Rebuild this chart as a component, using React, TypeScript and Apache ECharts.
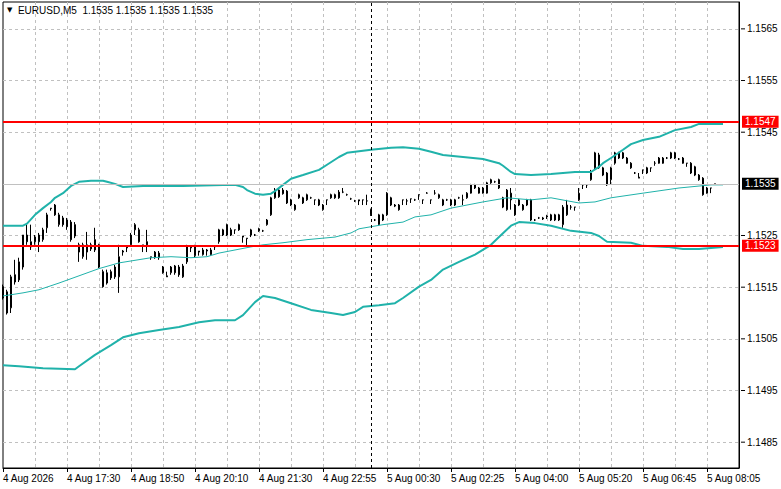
import React, { useEffect, useRef } from 'react';
import * as echarts from 'echarts';

const symbol = 'EURUSD';
const timeframe = 'M5';

// x-axis tick labels, one every 16 bars
const timeLabels = [
  '4 Aug 2026', '4 Aug 17:30', '4 Aug 18:50', '4 Aug 20:10', '4 Aug 21:30', '4 Aug 22:55',
  '5 Aug 00:30', '5 Aug 02:25', '5 Aug 04:00', '5 Aug 05:20', '5 Aug 06:45', '5 Aug 08:05',
];
const labelStep = 16;
const gridStep = 8;
const slotCount = 185; // bar slots incl. right-hand shift space

// [open, close, low, high]
const candles: number[][] = [
  [1.15151, 1.15129, 1.15126, 1.15155],
  [1.15141, 1.15100, 1.15097, 1.15145],
  [1.15110, 1.15170, 1.15100, 1.15174],
  [1.15174, 1.15160, 1.15155, 1.15203],
  [1.15164, 1.15199, 1.15160, 1.15207],
  [1.15189, 1.15251, 1.15184, 1.15251],
  [1.15251, 1.15238, 1.15232, 1.15271],
  [1.15228, 1.15238, 1.15222, 1.15271],
  [1.15247, 1.15238, 1.15232, 1.15251],
  [1.15251, 1.15238, 1.15218, 1.15255],
  [1.15242, 1.15261, 1.15238, 1.15265],
  [1.15265, 1.15290, 1.15255, 1.15294],
  [1.15302, 1.15303, 1.15298, 1.15303],
  [1.15309, 1.15290, 1.15288, 1.15311],
  [1.15271, 1.15290, 1.15267, 1.15294],
  [1.15284, 1.15271, 1.15267, 1.15288],
  [1.15280, 1.15267, 1.15261, 1.15284],
  [1.15276, 1.15242, 1.15238, 1.15280],
  [1.15271, 1.15249, 1.15245, 1.15276],
  [1.15232, 1.15218, 1.15199, 1.15236],
  [1.15209, 1.15232, 1.15205, 1.15236],
  [1.15218, 1.15232, 1.15203, 1.15257],
  [1.15232, 1.15224, 1.15220, 1.15236],
  [1.15242, 1.15222, 1.15218, 1.15265],
  [1.15232, 1.15189, 1.15187, 1.15234],
  [1.15180, 1.15151, 1.15149, 1.15184],
  [1.15158, 1.15178, 1.15155, 1.15184],
  [1.15180, 1.15168, 1.15164, 1.15184],
  [1.15189, 1.15170, 1.15166, 1.15193],
  [1.15170, 1.15209, 1.15139, 1.15232],
  [1.15218, 1.15220, 1.15211, 1.15222],
  [1.15226, 1.15228, 1.15218, 1.15230],
  [1.15232, 1.15251, 1.15228, 1.15255],
  [1.15261, 1.15271, 1.15251, 1.15274],
  [1.15261, 1.15238, 1.15236, 1.15265],
  [1.15230, 1.15232, 1.15218, 1.15232],
  [1.15238, 1.15232, 1.15218, 1.15261],
  [1.15207, 1.15209, 1.15203, 1.15209],
  [1.15218, 1.15207, 1.15205, 1.15220],
  [1.15216, 1.15207, 1.15203, 1.15220],
  [1.15189, 1.15178, 1.15176, 1.15191],
  [1.15170, 1.15172, 1.15170, 1.15180],
  [1.15178, 1.15189, 1.15174, 1.15191],
  [1.15191, 1.15178, 1.15174, 1.15193],
  [1.15189, 1.15174, 1.15170, 1.15193],
  [1.15170, 1.15191, 1.15168, 1.15195],
  [1.15199, 1.15228, 1.15195, 1.15232],
  [1.15226, 1.15228, 1.15218, 1.15230],
  [1.15211, 1.15228, 1.15207, 1.15232],
  [1.15218, 1.15220, 1.15211, 1.15220],
  [1.15213, 1.15222, 1.15211, 1.15226],
  [1.15220, 1.15222, 1.15211, 1.15224],
  [1.15213, 1.15222, 1.15211, 1.15226],
  [1.15228, 1.15230, 1.15222, 1.15230],
  [1.15238, 1.15261, 1.15234, 1.15263],
  [1.15251, 1.15261, 1.15249, 1.15263],
  [1.15251, 1.15271, 1.15249, 1.15273],
  [1.15261, 1.15251, 1.15249, 1.15265],
  [1.15261, 1.15261, 1.15253, 1.15261],
  [1.15271, 1.15261, 1.15259, 1.15273],
  [1.15247, 1.15249, 1.15236, 1.15249],
  [1.15244, 1.15245, 1.15228, 1.15245],
  [1.15251, 1.15261, 1.15247, 1.15263],
  [1.15251, 1.15251, 1.15249, 1.15253],
  [1.15263, 1.15259, 1.15257, 1.15265],
  [1.15259, 1.15259, 1.15257, 1.15261],
  [1.15271, 1.15280, 1.15269, 1.15282],
  [1.15290, 1.15323, 1.15288, 1.15325],
  [1.15323, 1.15338, 1.15321, 1.15342],
  [1.15338, 1.15325, 1.15323, 1.15342],
  [1.15338, 1.15331, 1.15329, 1.15342],
  [1.15336, 1.15313, 1.15311, 1.15338],
  [1.15319, 1.15309, 1.15307, 1.15321],
  [1.15300, 1.15309, 1.15298, 1.15311],
  [1.15323, 1.15329, 1.15321, 1.15331],
  [1.15323, 1.15313, 1.15311, 1.15325],
  [1.15319, 1.15329, 1.15317, 1.15331],
  [1.15323, 1.15323, 1.15321, 1.15325],
  [1.15319, 1.15319, 1.15309, 1.15319],
  [1.15309, 1.15319, 1.15307, 1.15321],
  [1.15300, 1.15309, 1.15298, 1.15311],
  [1.15319, 1.15319, 1.15309, 1.15319],
  [1.15329, 1.15323, 1.15321, 1.15331],
  [1.15329, 1.15323, 1.15321, 1.15331],
  [1.15334, 1.15323, 1.15321, 1.15338],
  [1.15334, 1.15334, 1.15332, 1.15342],
  [1.15329, 1.15329, 1.15327, 1.15331],
  [1.15321, 1.15321, 1.15319, 1.15323],
  [1.15317, 1.15317, 1.15315, 1.15319],
  [1.15319, 1.15317, 1.15309, 1.15319],
  [1.15319, 1.15319, 1.15309, 1.15319],
  [1.15317, 1.15317, 1.15309, 1.15329],
  [1.15300, 1.15290, 1.15288, 1.15302],
  [1.15280, 1.15280, 1.15278, 1.15282],
  [1.15271, 1.15290, 1.15269, 1.15292],
  [1.15280, 1.15290, 1.15278, 1.15292],
  [1.15290, 1.15332, 1.15288, 1.15334],
  [1.15323, 1.15309, 1.15307, 1.15325],
  [1.15309, 1.15307, 1.15305, 1.15311],
  [1.15309, 1.15300, 1.15298, 1.15311],
  [1.15319, 1.15319, 1.15309, 1.15319],
  [1.15317, 1.15317, 1.15309, 1.15321],
  [1.15321, 1.15321, 1.15313, 1.15321],
  [1.15319, 1.15319, 1.15317, 1.15321],
  [1.15329, 1.15329, 1.15319, 1.15329],
  [1.15319, 1.15319, 1.15311, 1.15319],
  [1.15332, 1.15332, 1.15331, 1.15334],
  [1.15319, 1.15319, 1.15311, 1.15319],
  [1.15332, 1.15332, 1.15329, 1.15338],
  [1.15323, 1.15329, 1.15321, 1.15331],
  [1.15319, 1.15309, 1.15307, 1.15321],
  [1.15319, 1.15319, 1.15317, 1.15321],
  [1.15319, 1.15309, 1.15307, 1.15321],
  [1.15319, 1.15309, 1.15307, 1.15321],
  [1.15323, 1.15323, 1.15321, 1.15325],
  [1.15319, 1.15319, 1.15309, 1.15329],
  [1.15323, 1.15332, 1.15321, 1.15334],
  [1.15332, 1.15348, 1.15331, 1.15350],
  [1.15348, 1.15342, 1.15340, 1.15350],
  [1.15332, 1.15342, 1.15331, 1.15344],
  [1.15332, 1.15342, 1.15331, 1.15344],
  [1.15332, 1.15352, 1.15331, 1.15354],
  [1.15358, 1.15352, 1.15350, 1.15360],
  [1.15354, 1.15354, 1.15352, 1.15356],
  [1.15358, 1.15342, 1.15340, 1.15360],
  [1.15323, 1.15305, 1.15303, 1.15325],
  [1.15300, 1.15338, 1.15298, 1.15340],
  [1.15332, 1.15319, 1.15300, 1.15342],
  [1.15309, 1.15290, 1.15288, 1.15311],
  [1.15309, 1.15319, 1.15307, 1.15321],
  [1.15309, 1.15300, 1.15298, 1.15311],
  [1.15309, 1.15319, 1.15307, 1.15321],
  [1.15319, 1.15280, 1.15278, 1.15321],
  [1.15280, 1.15280, 1.15278, 1.15282],
  [1.15284, 1.15284, 1.15282, 1.15286],
  [1.15284, 1.15282, 1.15280, 1.15286],
  [1.15288, 1.15286, 1.15282, 1.15290],
  [1.15290, 1.15280, 1.15278, 1.15292],
  [1.15290, 1.15280, 1.15278, 1.15292],
  [1.15290, 1.15280, 1.15278, 1.15292],
  [1.15271, 1.15305, 1.15265, 1.15309],
  [1.15290, 1.15309, 1.15288, 1.15319],
  [1.15305, 1.15305, 1.15300, 1.15309],
  [1.15305, 1.15305, 1.15298, 1.15305],
  [1.15319, 1.15332, 1.15317, 1.15342],
  [1.15348, 1.15348, 1.15340, 1.15348],
  [1.15348, 1.15348, 1.15342, 1.15348],
  [1.15358, 1.15371, 1.15356, 1.15377],
  [1.15381, 1.15410, 1.15377, 1.15412],
  [1.15381, 1.15406, 1.15379, 1.15410],
  [1.15367, 1.15381, 1.15365, 1.15383],
  [1.15371, 1.15348, 1.15346, 1.15373],
  [1.15358, 1.15381, 1.15348, 1.15383],
  [1.15390, 1.15410, 1.15387, 1.15412],
  [1.15410, 1.15400, 1.15398, 1.15412],
  [1.15410, 1.15400, 1.15398, 1.15412],
  [1.15400, 1.15390, 1.15389, 1.15402],
  [1.15390, 1.15381, 1.15379, 1.15392],
  [1.15371, 1.15371, 1.15369, 1.15373],
  [1.15361, 1.15363, 1.15361, 1.15371],
  [1.15377, 1.15377, 1.15369, 1.15377],
  [1.15381, 1.15371, 1.15369, 1.15383],
  [1.15381, 1.15381, 1.15373, 1.15381],
  [1.15390, 1.15390, 1.15385, 1.15394],
  [1.15400, 1.15390, 1.15389, 1.15402],
  [1.15400, 1.15390, 1.15389, 1.15402],
  [1.15400, 1.15400, 1.15398, 1.15402],
  [1.15410, 1.15400, 1.15398, 1.15412],
  [1.15410, 1.15400, 1.15398, 1.15412],
  [1.15398, 1.15398, 1.15396, 1.15400],
  [1.15400, 1.15390, 1.15389, 1.15402],
  [1.15390, 1.15390, 1.15383, 1.15390],
  [1.15390, 1.15371, 1.15369, 1.15392],
  [1.15383, 1.15367, 1.15365, 1.15385],
  [1.15367, 1.15358, 1.15356, 1.15369],
  [1.15361, 1.15329, 1.15327, 1.15363],
  [1.15342, 1.15332, 1.15331, 1.15344],
  [1.15342, 1.15342, 1.15332, 1.15342],
  [1.15350, 1.15350, 1.15350, 1.15350],
];

// Bollinger bands: [bar index, price]
const upperBand: number[][] = [
  [0, 1.15269], [5, 1.15269], [6, 1.15273], [8, 1.15290], [10, 1.15303], [12, 1.15315],
  [13, 1.15323], [15, 1.15332], [17, 1.15346], [19, 1.15354], [22, 1.15356], [25, 1.15356],
  [26, 1.15354], [28, 1.15350], [30, 1.15344], [35, 1.15346], [45, 1.15346], [55, 1.15348],
  [58, 1.15348], [60, 1.15344], [61, 1.15338], [63, 1.15331], [65, 1.15329], [67, 1.15331],
  [68, 1.15336], [70, 1.15348], [72, 1.15360], [75, 1.15367], [79, 1.15377], [81, 1.15387],
  [84, 1.15402], [86, 1.15410], [92, 1.15416], [97, 1.15420], [100, 1.15421], [104, 1.15418],
  [107, 1.15412], [110, 1.15406], [115, 1.15402], [120, 1.15398], [124, 1.15390], [125, 1.15385],
  [127, 1.15373], [128, 1.15369], [132, 1.15367], [137, 1.15369], [143, 1.15373], [147, 1.15373],
  [149, 1.15383], [150, 1.15390], [152, 1.15400], [155, 1.15416], [157, 1.15427], [160, 1.15435],
  [164, 1.15441], [168, 1.15454], [172, 1.15460], [174, 1.15466], [180, 1.15466],
];
const middleBand: number[][] = [
  [0, 1.15133], [5, 1.15139], [9, 1.15145], [14, 1.15158], [19, 1.15172], [24, 1.15186],
  [29, 1.15197], [37, 1.15207], [42, 1.15209], [47, 1.15207], [51, 1.15209], [54, 1.15216],
  [58, 1.15222], [62, 1.15228], [65, 1.15232], [70, 1.15236], [76, 1.15242], [83, 1.15247],
  [87, 1.15255], [89, 1.15263], [95, 1.15271], [100, 1.15276], [103, 1.15286], [107, 1.15290],
  [112, 1.15303], [120, 1.15315], [126, 1.15323], [132, 1.15319], [137, 1.15323], [144, 1.15313],
  [148, 1.15315], [152, 1.15323], [160, 1.15332], [169, 1.15342], [177, 1.15348], [180, 1.15348],
];
const lowerBand: number[][] = [
  [0, 1.14999], [4, 1.14997], [10, 1.14993], [18, 1.14991], [19, 1.14997], [23, 1.15019],
  [27, 1.15038], [30, 1.15053], [34, 1.15061], [39, 1.15067], [44, 1.15073], [49, 1.15082],
  [53, 1.15086], [58, 1.15086], [60, 1.15096], [63, 1.15121], [65, 1.15133], [68, 1.15129],
  [72, 1.15119], [77, 1.15106], [82, 1.15100], [85, 1.15096], [88, 1.15102], [90, 1.15112],
  [94, 1.15115], [98, 1.15119], [100, 1.15129], [104, 1.15151], [107, 1.15164], [110, 1.15184],
  [114, 1.15199], [118, 1.15213], [122, 1.15232], [124, 1.15247], [127, 1.15269], [129, 1.15276],
  [133, 1.15274], [137, 1.15269], [142, 1.15259], [147, 1.15255], [149, 1.15249], [151, 1.15238],
  [157, 1.15236], [160, 1.15230], [166, 1.15228], [170, 1.15224], [174, 1.15224], [180, 1.15228],
];

const levels = [1.1547, 1.1523];
const daySeparator = 92;
const yMin = 1.148;
const yMax = 1.15702;
const yStep = 0.0005;

const FONT = '"Liberation Sans", Arial, sans-serif';
const TEAL = '#20b2aa';

export default function App() {
  const ref = useRef<HTMLDivElement>(null);

  useEffect(() => {
    if (!ref.current) return;
    const chart = echarts.init(ref.current, null, { renderer: 'svg' });
    const categories = Array.from({ length: slotCount }, (_, i) => String(i));
    const last = candles[candles.length - 1];
    const lastClose = last[1];
    const f4 = (v: number) => v.toFixed(4);

    const isLabelLevel = (v: number) => {
      const k = v / yStep;
      if (Math.abs(k - Math.round(k)) > 1e-6) return false;
      if (Math.abs(v - lastClose) < 1e-6) return false; // covered by the bid tag
      return Math.round(v * 10000) % 10 === 5;
    };

    const tagLabel = (bg: string, text: string) => ({
      show: true,
      position: 'end',
      formatter: text,
      backgroundColor: bg,
      color: '#fff',
      padding: [1, 3, 1, 3],
      distance: 3,
      fontFamily: FONT,
      fontSize: 10,
      lineHeight: 10,
    });

    chart.setOption({
      animation: false,
      backgroundColor: '#fff',
      title: {
        text: `{a|▼}  ${symbol},${timeframe}  ${f4(last[0])} ${f4(last[3])} ${f4(last[2])} ${f4(last[1])}`,
        left: 7,
        top: 5,
        padding: 0,
        textStyle: {
          fontFamily: FONT,
          fontSize: 10,
          fontWeight: 'normal',
          color: '#000',
          rich: { a: { fontSize: 7, color: '#000', fontFamily: 'DejaVu Sans' } },
        },
      },
      grid: {
        left: 3, right: 42, top: 2, bottom: 21,
        show: true, borderColor: '#000', borderWidth: 1,
        containLabel: false, outerBoundsMode: 'none',
      },
      xAxis: {
        type: 'category',
        data: categories,
        boundaryGap: false,
        axisLine: { show: true, lineStyle: { color: '#000', width: 1 } },
        axisTick: { show: true, interval: labelStep - 1, length: 4, lineStyle: { color: '#000' } },
        axisLabel: {
          interval: labelStep - 1,
          align: 'left',
          margin: 5,
          color: '#000',
          fontFamily: FONT,
          fontSize: 10,
          formatter: (_v: string, idx: number) =>
            idx % labelStep === 0 ? (timeLabels[idx / labelStep] ?? '') : '',
        },
        splitLine: {
          show: true,
          interval: gridStep - 1,
          showMinLine: false,
          showMaxLine: false,
          lineStyle: { color: '#c0c0c0', width: 1, type: [3, 3] },
        },
      },
      yAxis: {
        type: 'value',
        position: 'right',
        min: yMin,
        max: yMax,
        interval: yStep,
        axisLine: { show: true, lineStyle: { color: '#000', width: 1 } },
        axisTick: { show: false },
        axisLabel: {
          margin: 2,
          color: '#000',
          fontFamily: FONT,
          fontSize: 10,
          showMinLabel: true,
          showMaxLabel: true,
          formatter: (v: number) => (isLabelLevel(v) ? `{t|}{v|${f4(v)}}` : ''),
          rich: {
            t: { width: 4, height: 1, backgroundColor: '#000' },
            v: { padding: [0, 0, 0, 2], fontFamily: FONT, fontSize: 10, color: '#000' },
          },
        },
        splitLine: {
          show: true,
          showMaxLine: false,
          lineStyle: { color: ['rgba(0,0,0,0)', '#c0c0c0'], width: 1, type: [3, 3] },
        },
      },
      series: [
        {
          type: 'candlestick',
          data: candles,
          barWidth: 2,
          z: 2,
          silent: true,
          itemStyle: {
            color: '#ffffff',
            color0: '#000000',
            borderColor: '#000000',
            borderColor0: '#000000',
            borderWidth: 1,
          },
        },
        {
          type: 'line', data: lowerBand, symbol: 'none', silent: true, z: 3,
          lineStyle: { color: TEAL, width: 2 },
        },
        {
          type: 'line', data: middleBand, symbol: 'none', silent: true, z: 3,
          lineStyle: { color: TEAL, width: 1 },
        },
        {
          type: 'line', data: upperBand, symbol: 'none', silent: true, z: 3,
          lineStyle: { color: TEAL, width: 2 },
          markLine: {
            silent: true,
            symbol: ['none', 'none'],
            precision: 5,
            animation: false,
            data: [
              {
                yAxis: lastClose,
                lineStyle: { color: '#c0c0c0', width: 1, type: 'solid' },
                label: tagLabel('#000', f4(lastClose)),
              },
              {
                xAxis: String(daySeparator),
                lineStyle: { color: '#000', width: 1, type: [3, 3] },
                label: { show: false },
              },
              ...levels.map((v) => ({
                yAxis: v,
                lineStyle: { color: '#ff0000', width: 2, type: 'solid' },
                label: tagLabel('#ff0000', f4(v)),
              })),
            ],
          },
        },
      ],
    });
    return () => chart.dispose();
  }, []);

  return (
    <div
      ref={ref}
      style={{ position: 'fixed', left: 0, top: 0, width: 781, height: 489, background: '#fff' }}
    />
  );
}
